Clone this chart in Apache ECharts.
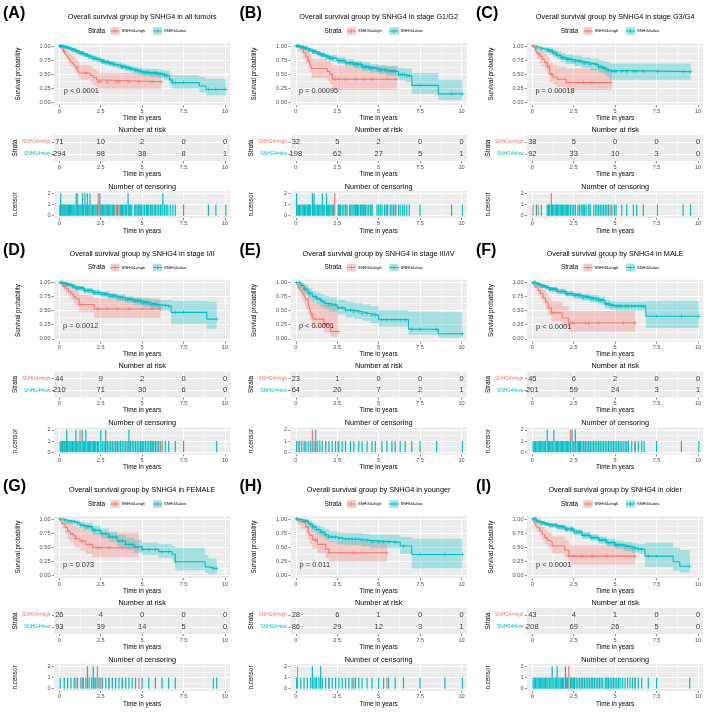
<!DOCTYPE html>
<html><head><meta charset="utf-8">
<script src="https://cdn.jsdelivr.net/npm/echarts@6/dist/echarts.min.js"></script>
<style>html,body{margin:0;padding:0;background:#fff}#c{width:720px;height:720px}</style>
</head><body><div id="c"></div><script>
// ---------------- DATA ----------------
const strataNames = ['SNHG4=high', 'SNHG4=low'];
const timeTicks = [0, 2.5, 5, 7.5, 10];
const panelLetters = ['(A)','(B)','(C)','(D)','(E)','(F)','(G)','(H)','(I)'];
const panelTitles = [
  'Overall survival group by SNHG4 in all tumors',
  'Overall survival group by SNHG4 in stage G1/G2',
  'Overall survival group by SNHG4 in stage G3/G4',
  'Overall survival group by SNHG4 in stage I/II',
  'Overall survival group by SNHG4 in stage III/IV',
  'Overall survival group by SNHG4 in MALE',
  'Overall survival group by SNHG4 in FEMALE',
  'Overall survival group by SNHG4 in younger',
  'Overall survival group by SNHG4 in older'
];
const pValues = ['p < 0.0001','p = 0.00095','p = 0.00018','p = 0.0012','p < 0.0001','p < 0.0001','p = 0.073','p = 0.011','p < 0.0001'];
const pPositions = [[0.24,0.21],[0.16,0.21],[0.16,0.21],[0.2,0.23],[0.16,0.23],[0.2,0.21],[0.2,0.19],[0.2,0.19],[0.2,0.19]];

// number at risk at timeTicks
const riskHigh = [[71,10,2,0,0],[32,5,2,0,0],[38,5,0,0,0],[44,9,2,0,0],[23,1,0,0,0],[45,6,2,0,0],[26,4,0,0,0],[28,6,1,0,0],[43,4,1,0,0]];
const riskLow  = [[294,98,38,8,1],[198,62,27,5,1],[92,33,10,3,0],[210,71,30,6,0],[64,20,7,2,1],[201,59,24,3,1],[93,39,14,5,0],[86,29,12,3,1],[208,69,26,5,0]];

// Kaplan-Meier steps: [time, survival, lower CI, upper CI]
const kmHigh_A = [[0,1,1,1],[0.08,0.97,0.93,1],[0.18,0.94,0.89,0.99],[0.28,0.90,0.84,0.97],[0.38,0.86,0.79,0.94],[0.48,0.82,0.74,0.91],[0.58,0.78,0.69,0.88],[0.68,0.74,0.64,0.85],[0.8,0.70,0.60,0.82],[0.92,0.66,0.55,0.78],[1.02,0.62,0.51,0.75],[1.12,0.57,0.46,0.71],[1.22,0.52,0.40,0.66],[1.85,0.48,0.36,0.63],[2.05,0.44,0.31,0.59],[2.25,0.40,0.27,0.55],[2.35,0.365,0.23,0.52],[6.15,0.365,0.23,0.52]];
const kmLow_A = [[0,1,1,1],[0.25,0.98,0.96,0.99],[0.5,0.96,0.94,0.98],[0.75,0.93,0.90,0.96],[1,0.90,0.87,0.93],[1.25,0.87,0.83,0.91],[1.5,0.84,0.80,0.88],[1.75,0.81,0.77,0.85],[2,0.78,0.74,0.83],[2.25,0.76,0.71,0.81],[2.5,0.73,0.68,0.78],[2.75,0.71,0.66,0.76],[3,0.69,0.64,0.74],[3.25,0.67,0.62,0.73],[3.5,0.65,0.60,0.71],[3.75,0.63,0.58,0.69],[4,0.61,0.55,0.67],[4.25,0.59,0.53,0.65],[4.5,0.57,0.51,0.63],[4.75,0.55,0.49,0.62],[5,0.53,0.47,0.60],[5.5,0.52,0.45,0.59],[6,0.50,0.43,0.58],[6.3,0.47,0.39,0.56],[6.65,0.40,0.31,0.51],[6.8,0.35,0.24,0.48],[8.45,0.29,0.18,0.45],[8.85,0.23,0.12,0.42],[10.05,0.23,0.12,0.42]];
const kmHigh_B = [[0,1,1,1],[0.15,0.97,0.91,1],[0.3,0.94,0.86,1],[0.45,0.88,0.77,0.99],[0.6,0.81,0.68,0.95],[0.75,0.75,0.61,0.91],[0.85,0.69,0.54,0.87],[0.95,0.60,0.43,0.77],[1.9,0.55,0.38,0.74],[2.05,0.50,0.33,0.70],[2.2,0.41,0.22,0.65],[6.1,0.41,0.22,0.65]];
const kmLow_B = [[0,1,1,1],[0.25,0.98,0.96,1],[0.5,0.96,0.93,0.99],[0.75,0.93,0.90,0.96],[1,0.90,0.86,0.94],[1.25,0.87,0.83,0.91],[1.5,0.84,0.79,0.89],[1.75,0.81,0.76,0.86],[2,0.78,0.72,0.84],[2.5,0.74,0.68,0.80],[3,0.70,0.64,0.77],[3.5,0.67,0.60,0.74],[4,0.63,0.56,0.71],[4.5,0.60,0.53,0.68],[5,0.575,0.50,0.66],[5.5,0.55,0.47,0.64],[6.2,0.49,0.39,0.61],[6.6,0.47,0.36,0.60],[7,0.30,0.15,0.52],[8.6,0.15,0.04,0.40],[10.05,0.15,0.04,0.40]];
const kmHigh_C = [[0,1,1,1],[0.1,0.97,0.92,1],[0.2,0.92,0.84,1],[0.3,0.87,0.77,0.98],[0.45,0.82,0.70,0.95],[0.6,0.76,0.63,0.91],[0.75,0.71,0.57,0.87],[0.9,0.63,0.49,0.81],[1.05,0.50,0.36,0.70],[1.25,0.45,0.31,0.66],[1.5,0.41,0.27,0.63],[2.05,0.35,0.22,0.60],[4.8,0.35,0.22,0.60]];
const kmLow_C = [[0,1,1,1],[0.25,0.97,0.94,1],[0.5,0.95,0.91,0.99],[0.75,0.93,0.88,0.98],[1,0.91,0.85,0.97],[1.25,0.87,0.80,0.94],[1.5,0.83,0.76,0.91],[1.75,0.79,0.71,0.88],[2,0.76,0.68,0.85],[2.5,0.73,0.64,0.83],[3,0.70,0.61,0.80],[3.5,0.67,0.57,0.78],[4,0.63,0.53,0.75],[4.3,0.60,0.49,0.73],[4.5,0.57,0.45,0.71],[4.65,0.545,0.40,0.69],[9.55,0.545,0.40,0.69]];
const kmHigh_D = [[0,1,1,1],[0.1,0.97,0.92,1],[0.25,0.93,0.86,1],[0.4,0.89,0.80,0.98],[0.55,0.84,0.74,0.95],[0.7,0.80,0.69,0.92],[0.85,0.75,0.63,0.89],[1,0.71,0.58,0.86],[1.2,0.61,0.47,0.78],[2.1,0.53,0.37,0.72],[6.1,0.53,0.37,0.72]];
const kmLow_D = [[0,1,1,1],[0.25,0.98,0.96,1],[0.5,0.96,0.94,0.98],[0.75,0.93,0.90,0.96],[1,0.90,0.86,0.93],[1.5,0.86,0.82,0.90],[2,0.82,0.78,0.87],[2.5,0.79,0.74,0.84],[3,0.76,0.71,0.81],[3.5,0.73,0.67,0.79],[4,0.70,0.64,0.76],[4.5,0.67,0.60,0.74],[5,0.64,0.57,0.72],[5.5,0.61,0.53,0.70],[6,0.59,0.50,0.69],[6.6,0.58,0.48,0.69],[6.75,0.47,0.26,0.67],[8.9,0.35,0.18,0.66],[9.5,0.35,0.18,0.66]];
const kmHigh_E = [[0,1,1,1],[0.1,0.96,0.88,1],[0.2,0.91,0.80,1],[0.3,0.87,0.74,1],[0.4,0.83,0.68,0.99],[0.5,0.78,0.62,0.96],[0.6,0.70,0.52,0.92],[0.75,0.61,0.43,0.86],[0.85,0.52,0.34,0.79],[0.95,0.43,0.26,0.72],[1.05,0.35,0.19,0.65],[1.7,0.26,0.11,0.60],[2.1,0.13,0.03,0.58],[2.55,0.13,0.03,0.58]];
const kmLow_E = [[0,1,1,1],[0.25,0.95,0.90,1],[0.5,0.88,0.81,0.96],[0.75,0.81,0.72,0.90],[1,0.75,0.65,0.85],[1.25,0.71,0.61,0.82],[1.5,0.67,0.56,0.79],[1.75,0.63,0.52,0.76],[2,0.60,0.48,0.73],[2.5,0.55,0.43,0.69],[3,0.51,0.38,0.66],[3.5,0.48,0.35,0.63],[4,0.45,0.32,0.61],[4.5,0.42,0.28,0.58],[5,0.34,0.22,0.51],[6.8,0.17,0.07,0.48],[8.6,0.09,0.02,0.47],[10.05,0.09,0.02,0.47]];
const kmHigh_F = [[0,1,1,1],[0.1,0.96,0.91,1],[0.2,0.92,0.85,0.99],[0.35,0.86,0.77,0.96],[0.5,0.80,0.69,0.92],[0.65,0.73,0.61,0.87],[0.8,0.65,0.52,0.81],[0.95,0.55,0.42,0.73],[1.15,0.46,0.31,0.66],[1.8,0.37,0.22,0.58],[2.2,0.28,0.13,0.50],[6.2,0.28,0.13,0.50]];
const kmLow_F = [[0,1,1,1],[0.25,0.97,0.95,0.99],[0.5,0.94,0.91,0.97],[0.75,0.91,0.88,0.95],[1,0.88,0.84,0.92],[1.5,0.84,0.79,0.89],[2,0.80,0.75,0.85],[2.5,0.77,0.71,0.82],[3,0.74,0.68,0.80],[3.5,0.71,0.64,0.78],[4,0.68,0.61,0.75],[4.4,0.62,0.54,0.70],[4.7,0.59,0.51,0.67],[5,0.58,0.50,0.66],[6.85,0.40,0.19,0.67],[10.05,0.40,0.19,0.67]];
const kmHigh_G = [[0,1,1,1],[0.1,0.96,0.89,1],[0.2,0.92,0.83,1],[0.35,0.85,0.73,0.98],[0.5,0.78,0.64,0.94],[0.65,0.74,0.59,0.92],[0.85,0.70,0.54,0.89],[1,0.65,0.49,0.86],[1.25,0.61,0.44,0.83],[1.6,0.55,0.38,0.79],[2,0.49,0.32,0.76],[4.8,0.49,0.32,0.76]];
const kmLow_G = [[0,1,1,1],[0.25,0.98,0.95,1],[0.5,0.95,0.91,0.99],[1,0.93,0.88,0.98],[1.25,0.89,0.83,0.95],[1.5,0.86,0.79,0.93],[2,0.80,0.72,0.88],[2.5,0.74,0.66,0.83],[3,0.68,0.59,0.78],[3.5,0.61,0.51,0.72],[4,0.55,0.45,0.67],[4.5,0.51,0.40,0.63],[5,0.46,0.36,0.58],[6,0.42,0.31,0.55],[6.8,0.375,0.26,0.52],[7,0.24,0.09,0.49],[8.8,0.15,0.04,0.36],[9,0.12,0.02,0.30],[9.5,0.12,0.02,0.30]];
const kmHigh_H = [[0,1,1,1],[0.15,0.96,0.89,1],[0.3,0.93,0.83,1],[0.6,0.86,0.73,0.99],[0.75,0.78,0.63,0.94],[0.85,0.71,0.55,0.89],[1,0.63,0.47,0.83],[1.3,0.55,0.39,0.76],[1.8,0.47,0.31,0.70],[2,0.40,0.24,0.61],[5.5,0.40,0.24,0.61]];
const kmLow_H = [[0,1,1,1],[0.25,0.98,0.95,1],[0.5,0.96,0.92,1],[0.75,0.91,0.85,0.97],[1,0.86,0.79,0.93],[1.25,0.81,0.73,0.89],[1.5,0.77,0.69,0.86],[1.75,0.72,0.63,0.82],[2,0.68,0.59,0.78],[2.5,0.65,0.55,0.76],[3,0.64,0.54,0.75],[4,0.62,0.51,0.74],[4.5,0.59,0.48,0.72],[6.3,0.52,0.38,0.68],[7,0.37,0.12,0.65],[10.05,0.37,0.12,0.65]];
const kmHigh_I = [[0,1,1,1],[0.08,0.96,0.91,1],[0.18,0.90,0.82,0.98],[0.3,0.85,0.76,0.95],[0.45,0.79,0.69,0.91],[0.6,0.73,0.62,0.86],[0.75,0.67,0.55,0.81],[0.9,0.62,0.50,0.77],[1.05,0.595,0.47,0.75],[1.2,0.52,0.39,0.69],[1.95,0.45,0.32,0.63],[2.2,0.34,0.19,0.53],[6.2,0.34,0.19,0.53]];
const kmLow_I = [[0,1,1,1],[0.25,0.96,0.94,0.99],[0.5,0.93,0.90,0.96],[0.75,0.91,0.88,0.94],[1,0.89,0.85,0.93],[1.5,0.86,0.81,0.90],[2,0.82,0.77,0.87],[2.5,0.77,0.71,0.82],[3,0.71,0.65,0.77],[3.5,0.67,0.61,0.73],[4,0.625,0.56,0.69],[4.5,0.58,0.51,0.65],[5,0.54,0.47,0.62],[5.5,0.51,0.43,0.59],[6,0.48,0.40,0.57],[6.4,0.46,0.38,0.55],[6.8,0.34,0.15,0.58],[8.5,0.24,0.08,0.50],[8.9,0.16,0.05,0.45],[9.5,0.16,0.05,0.45]];

// censoring times (years); "1" = one patient censored, "2" = two patients censored
const cens1High_A = [0.3,1.6,2.5,2.9,3.45,3.6,4.2,4.8,5.6,6.15];
const cens2High_A = [1.1,2.35];
const cens1Low_A = [0.03,0.1,0.16,0.22,0.28,0.35,0.42,0.48,0.55,0.62,0.68,0.75,0.82,0.88,0.95,1.12,1.18,1.25,1.32,1.45,1.62,1.78,1.92,2.0,2.08,2.15,2.22,2.3,2.52,2.6,2.68,2.75,2.82,2.9,2.98,3.05,3.12,3.2,3.28,3.35,3.52,3.68,3.75,3.82,3.9,3.98,4.05,4.22,4.3,4.38,4.55,4.62,4.7,4.8,4.88,4.95,5.05,5.15,5.25,5.32,5.4,5.5,5.6,5.72,5.8,5.9,6.0,6.1,6.35,6.45,6.55,6.7,6.85,7.0,7.5,9.0,9.45,10.05];
const cens2Low_A = [0.08,1.02,1.4,1.55,1.7,1.85,2.45,4.15,6.25];
const cens1High_B = [0.75,2.6,3.0,3.6,4.1,4.6,5.5,6.05];
const cens2High_B = [2.35];
const cens1Low_B = [0.08,0.15,0.22,0.3,0.38,0.45,0.52,0.6,0.68,0.75,0.82,0.9,1.05,1.15,1.22,1.3,1.38,1.45,1.52,1.65,1.72,1.9,1.98,2.05,2.12,2.2,2.28,2.55,2.62,2.7,2.8,2.9,3.0,3.1,3.25,3.32,3.4,3.5,3.58,3.65,3.72,3.8,3.9,3.98,4.05,4.12,4.2,4.3,4.4,4.5,4.6,4.9,5.0,5.1,5.2,5.35,5.45,5.55,5.7,5.8,5.9,6.0,6.2,6.3,6.45,6.55,6.7,6.85,7.5,9.4,10.05];
const cens2Low_B = [0.05,1.0,1.1,1.6,1.85];
const cens1High_C = [0.05,0.35,1.0,3.1,3.5,3.7,4.7];
const cens2High_C = [1.15];
const cens1Low_C = [0.25,0.55,0.9,0.98,1.05,1.15,1.22,1.3,1.38,1.45,1.52,1.6,1.68,1.75,1.82,1.9,1.98,2.05,2.12,2.2,2.3,2.4,2.5,2.6,2.75,2.85,2.95,3.05,3.15,3.25,3.4,3.5,3.8,3.9,4.0,4.1,4.2,4.3,4.4,4.5,4.6,4.8,4.95,5.05,5.4,5.7,6.1,6.3,6.7,7.55,9.1,9.55];
const cens2Low_C = [];
const cens1High_D = [0.3,2.3,2.9,3.5,4.2,5.0,5.6,6.1];
const cens2High_D = [1.25];
const cens1Low_D = [0.05,0.12,0.2,0.28,0.35,0.42,0.5,0.58,0.65,0.72,0.8,0.88,0.95,1.05,1.12,1.2,1.3,1.45,1.52,1.68,1.75,1.82,1.9,1.98,2.05,2.12,2.2,2.3,2.38,2.6,2.7,2.78,2.9,3.0,3.1,3.2,3.3,3.4,3.5,3.6,3.7,3.8,3.9,4.0,4.1,4.3,4.4,4.5,4.6,4.7,4.8,4.9,5.0,5.1,5.2,5.3,5.4,5.5,5.6,5.7,5.8,5.9,6.0,6.2,6.4,6.6,7.0,7.5,9.5];
const cens2Low_D = [0.45,1.0,1.38,1.6,2.5,2.8,4.2];
const cens1High_E = [0.2,1.8,2.55];
const cens2High_E = [1.0];
const cens1Low_E = [0.05,0.2,0.35,0.5,0.6,0.75,0.9,1.1,1.3,1.45,1.6,1.8,2.0,2.2,2.4,2.6,2.8,3.0,3.3,3.5,3.8,4.0,4.3,4.6,4.8,5.2,5.5,5.8,6.0,6.3,6.6,7.0,7.5,8.5,10.05];
const cens2Low_E = [1.2];
const cens1High_F = [1.2,2.5,3.2,3.4,4.0,5.5,6.2];
const cens2High_F = [2.3];
const cens1Low_F = [0.05,0.12,0.2,0.28,0.35,0.42,0.5,0.58,0.65,0.72,0.8,0.98,1.05,1.12,1.2,1.38,1.45,1.52,1.6,1.68,1.75,1.82,1.9,1.98,2.05,2.12,2.2,2.3,2.5,2.7,2.78,2.85,2.92,3.0,3.1,3.2,3.3,3.4,3.5,3.6,3.7,3.8,3.9,4.0,4.1,4.2,4.3,4.4,4.5,4.6,4.7,4.8,4.9,5.0,5.1,5.2,5.3,5.4,5.6,5.7,5.8,6.0,6.2,6.4,6.6,6.75,7.5,9.0,10.05];
const cens2Low_F = [0.9,1.3,2.4,2.6];
const cens1High_G = [1.0,1.4,2.5,3.0,3.8,4.8];
const cens2High_G = [2.3];
const cens1Low_G = [0.05,0.3,0.5,0.7,0.9,1.1,1.3,1.45,1.6,1.8,1.95,2.1,2.2,2.4,2.6,2.8,3.0,3.2,3.4,3.6,3.8,4.0,4.2,4.4,4.6,5.0,5.4,5.8,6.2,6.6,7.0,9.3,9.5];
const cens2Low_G = [1.7,2.05];
const cens1High_H = [1.2,2.0,3.5,5.5];
const cens2High_H = [0.1];
const cens1Low_H = [0.05,0.3,0.5,0.7,0.9,1.1,1.25,1.4,1.6,1.8,2.0,2.2,2.4,2.6,2.8,3.0,3.2,3.4,3.6,3.8,4.0,4.3,4.6,5.0,5.3,5.6,6.0,6.5,7.5,9.0,10.05];
const cens2Low_H = [1.0,1.5];
const cens1High_I = [2.5,3.0,3.6,4.5,6.2];
const cens2High_I = [2.2];
const cens1Low_I = [0.05,0.12,0.2,0.28,0.35,0.42,0.5,0.58,0.65,0.72,0.8,0.88,0.95,1.05,1.12,1.3,1.38,1.45,1.6,1.68,1.75,1.82,1.9,2.05,2.12,2.3,2.38,2.45,2.55,2.65,2.75,2.85,2.95,3.05,3.15,3.25,3.35,3.45,3.55,3.65,3.75,3.85,3.95,4.05,4.15,4.25,4.4,4.5,4.6,4.7,4.8,4.9,5.0,5.1,5.2,5.3,5.45,5.6,5.75,5.9,6.05,6.2,6.4,6.6,7.0,7.5,9.5];
const cens2Low_I = [1.2,1.5,2.0];

// ---------------- BUILD ----------------
const FONT = '"Liberation Sans", Arial, sans-serif';
const COL = ['#F8766D', '#00BFC4'];
const FILL = ['rgba(248,118,109,0.3)', 'rgba(0,191,196,0.3)'];
const PLUS = 'path://M4,0H6V4H10V6H6V10H4V6H0V4H4Z';

const panels = [
  [kmHigh_A, kmLow_A, cens1High_A, cens2High_A, cens1Low_A, cens2Low_A],
  [kmHigh_B, kmLow_B, cens1High_B, cens2High_B, cens1Low_B, cens2Low_B],
  [kmHigh_C, kmLow_C, cens1High_C, cens2High_C, cens1Low_C, cens2Low_C],
  [kmHigh_D, kmLow_D, cens1High_D, cens2High_D, cens1Low_D, cens2Low_D],
  [kmHigh_E, kmLow_E, cens1High_E, cens2High_E, cens1Low_E, cens2Low_E],
  [kmHigh_F, kmLow_F, cens1High_F, cens2High_F, cens1Low_F, cens2Low_F],
  [kmHigh_G, kmLow_G, cens1High_G, cens2High_G, cens1Low_G, cens2Low_G],
  [kmHigh_H, kmLow_H, cens1High_H, cens2High_H, cens1Low_H, cens2Low_H],
  [kmHigh_I, kmLow_I, cens1High_I, cens2High_I, cens1Low_I, cens2Low_I]
];

const grids = [], xAxes = [], yAxes = [], series = [], gfx = [];
function addGrid(l, t, w, h, bg) {
  grids.push({left: l, top: t, width: w, height: h, show: !!bg, backgroundColor: bg || 'transparent', borderWidth: 0, z: 0, containLabel: false});
  return grids.length - 1;
}
function hidden(gi, min, max) { return {type: 'value', gridIndex: gi, min: min, max: max, show: false}; }
const tickStyle = {show: true, length: 2, lineStyle: {color: '#333', width: 0.6}};
const labStyle = {fontSize: 5.6, color: '#4D4D4D', fontFamily: FONT};
function stepAt(km, t) { let v = km[0][1]; for (const r of km) { if (r[0] <= t) v = r[1]; } return v; }

function xLinesAxis(gi, withMinor) {
  return {type: 'value', gridIndex: gi, min: 0, max: 10, interval: 2.5, z: 1,
    axisLine: {show: false}, axisTick: tickStyle,
    axisLabel: Object.assign({margin: 3}, labStyle),
    splitLine: {show: true, lineStyle: {color: '#fff', width: 1}},
    minorTick: {show: false, splitNumber: 2},
    minorSplitLine: {show: withMinor, lineStyle: {color: '#fff', width: 0.5}},
    name: 'Time in years', nameLocation: 'middle', nameGap: 9,
    nameTextStyle: {fontSize: 6.4, color: '#000', fontFamily: FONT}};
}

// confidence band drawn as one stepped polygon through the axis scales
function bandSeries(km, s, xi, yi) {
  return {type: 'custom', xAxisIndex: xi, yAxisIndex: yi, z: 2, silent: true, animation: false,
    data: km.map(r => [r[0], r[2], r[3]]),
    encode: {x: 0, y: [1, 2]},
    renderItem: (params, api) => {
      if (params.dataIndex !== 0) return null;
      const pts = [];
      for (let j = 0; j < km.length; j++) {
        pts.push(api.coord([km[j][0], km[j][3]]));
        if (j < km.length - 1) pts.push(api.coord([km[j + 1][0], km[j][3]]));
      }
      for (let j = km.length - 1; j >= 0; j--) {
        if (j < km.length - 1) pts.push(api.coord([km[j + 1][0], km[j][2]]));
        pts.push(api.coord([km[j][0], km[j][2]]));
      }
      return {type: 'polygon', shape: {points: pts}, style: {fill: FILL[s]}};
    }};
}

panels.forEach((P, i) => {
  const [kmH, kmL, c1H, c2H, c1L, c2L] = P;
  const col = i % 3, row = Math.floor(i / 3);
  const ox = col * 236.5, oy = row * 236.5;
  const x0 = ox + 59.3, x10 = ox + 225, k = (x10 - x0) / 10;
  const bgL = x0 - 0.32 * k, bgW = (x10 - x0) + 0.64 * k;
  const cx = bgL + bgW / 2;

  // ---- survival plot ----
  const sy1 = oy + 46, sy0 = oy + 102.3, su = sy0 - sy1;
  const sT = sy1 - 0.05 * su, sH = su * 1.1;
  const gS = addGrid(bgL, sT, bgW, sH, '#EBEBEB');
  xAxes.push(hidden(gS, -0.32, 10.32)); const sx = xAxes.length - 1;
  yAxes.push(hidden(gS, -0.05, 1.05)); const sy = yAxes.length - 1;
  const gSv = addGrid(x0, sT, x10 - x0, sH);
  xAxes.push(xLinesAxis(gSv, true)); yAxes.push(hidden(gSv, 0, 1));
  const gSh = addGrid(bgL, sy1, bgW, su);
  xAxes.push(hidden(gSh, 0, 1));
  yAxes.push({type: 'value', gridIndex: gSh, min: 0, max: 1, interval: 0.25, z: 1,
    axisLine: {show: false}, axisTick: tickStyle,
    axisLabel: Object.assign({margin: 3.5, formatter: v => v.toFixed(2)}, labStyle),
    splitLine: {show: true, lineStyle: {color: '#fff', width: 1}},
    minorTick: {show: false, splitNumber: 2},
    minorSplitLine: {show: true, lineStyle: {color: '#fff', width: 0.5}},
    name: 'Survival probability', nameLocation: 'middle', nameRotate: 90, nameGap: 33,
    nameTextStyle: {fontSize: 6.3, color: '#000', fontFamily: FONT}});

  [kmH, kmL].forEach((km, s) => series.push(bandSeries(km, s, sx, sy)));
  [kmH, kmL].forEach((km, s) => {
    series.push({type: 'line', name: strataNames[s], xAxisIndex: sx, yAxisIndex: sy, step: 'end', symbol: 'none', z: 3,
      lineStyle: {color: COL[s], width: 1.1}, data: km.map(r => [r[0], r[1]]), animation: false});
  });
  [[kmH, c1H.concat(c2H)], [kmL, c1L.concat(c2L)]].forEach(([km, ts], s) => {
    series.push({type: 'scatter', xAxisIndex: sx, yAxisIndex: sy, symbol: PLUS, symbolSize: 4, z: 4, silent: true,
      itemStyle: {color: COL[s]}, data: ts.map(t => [t, stepAt(km, t)]), animation: false});
  });
  series.push({type: 'scatter', xAxisIndex: sx, yAxisIndex: sy, symbolSize: 1, z: 5, silent: true,
    itemStyle: {color: 'rgba(0,0,0,0)'}, data: [pPositions[i]],
    label: {show: true, position: 'right', distance: 0, formatter: pValues[i], fontSize: 7.4, color: '#000', fontFamily: FONT}, animation: false});

  // ---- risk table ----
  const rT = oy + 135, rB = oy + 161, ru = (rB - rT) / 2.2;
  const gR = addGrid(bgL, rT, bgW, rB - rT, '#EBEBEB');
  xAxes.push(hidden(gR, -0.32, 10.32)); const rx = xAxes.length - 1;
  yAxes.push(hidden(gR, 0.4, 2.6)); const ry = yAxes.length - 1;
  const gRv = addGrid(x0, rT, x10 - x0, rB - rT);
  xAxes.push(xLinesAxis(gRv, true)); yAxes.push(hidden(gRv, 0, 1));
  const gRh = addGrid(bgL, rB - 1.6 * ru, bgW, ru);
  xAxes.push(hidden(gRh, 0, 1));
  yAxes.push({type: 'value', gridIndex: gRh, min: 1, max: 2, interval: 1, z: 1,
    axisLine: {show: false}, axisTick: tickStyle,
    axisLabel: {margin: 3.5, formatter: v => v === 2 ? '{h|' + strataNames[0] + '}' : '{l|' + strataNames[1] + '}',
      rich: {h: {color: COL[0], fontSize: 4.8, fontFamily: FONT}, l: {color: COL[1], fontSize: 4.8, fontFamily: FONT}}},
    splitLine: {show: true, lineStyle: {color: '#fff', width: 1}},
    name: 'Strata', nameLocation: 'middle', nameRotate: 90, nameGap: 36,
    nameTextStyle: {fontSize: 6.3, color: '#000', fontFamily: FONT}});
  const riskData = [];
  timeTicks.forEach((t, j) => { riskData.push([t, 2, riskHigh[i][j]]); riskData.push([t, 1, riskLow[i][j]]); });
  series.push({type: 'scatter', xAxisIndex: rx, yAxisIndex: ry, symbolSize: 1, z: 5, silent: true,
    itemStyle: {color: 'rgba(0,0,0,0)'}, data: riskData,
    label: {show: true, position: 'inside', formatter: p => String(p.value[2]), fontSize: 7.5, color: '#000', fontFamily: FONT}, animation: false});

  // ---- censoring plot ----
  const cy2 = oy + 193.3, cy0 = oy + 215.7, cu = (cy0 - cy2) / 2;
  const cT = cy2 - 0.2 * cu, cH = cu * 2.4;
  const gC = addGrid(bgL, cT, bgW, cH, '#EBEBEB');
  xAxes.push(hidden(gC, -0.32, 10.32)); const ccx = xAxes.length - 1;
  yAxes.push(hidden(gC, -0.2, 2.2)); const ccy = yAxes.length - 1;
  const gCv = addGrid(x0, cT, x10 - x0, cH);
  xAxes.push(xLinesAxis(gCv, true)); yAxes.push(hidden(gCv, 0, 1));
  const gCh = addGrid(bgL, cy2, bgW, cy0 - cy2);
  xAxes.push(hidden(gCh, 0, 1));
  yAxes.push({type: 'value', gridIndex: gCh, min: 0, max: 2, interval: 1, z: 1,
    axisLine: {show: false}, axisTick: tickStyle,
    axisLabel: Object.assign({margin: 3.5}, labStyle),
    splitLine: {show: true, lineStyle: {color: '#fff', width: 1}},
    minorTick: {show: false, splitNumber: 2},
    minorSplitLine: {show: true, lineStyle: {color: '#fff', width: 0.5}},
    name: 'n.censor', nameLocation: 'middle', nameRotate: 90, nameGap: 36,
    nameTextStyle: {fontSize: 6.3, color: '#000', fontFamily: FONT}});
  [[c1H, c2H], [c1L, c2L]].forEach(([a1, a2], s) => {
    series.push({type: 'bar', xAxisIndex: ccx, yAxisIndex: ccy, barWidth: 1.2, barGap: '-100%', z: 3 + s, silent: true,
      itemStyle: {color: COL[s]}, data: a1.map(t => [t, 1]).concat(a2.map(t => [t, 2])), animation: false});
  });

  // ---- texts ----
  gfx.push({type: 'text', x: ox + 3, y: oy + 14, style: {text: panelLetters[i], fontSize: 16, fontWeight: 'bold', fontFamily: FONT, fill: '#000', align: 'left', verticalAlign: 'middle'}});
  gfx.push({type: 'text', x: cx, y: oy + 17, style: {text: panelTitles[i], fontSize: 7.3, fontFamily: FONT, fill: '#000', align: 'center', verticalAlign: 'middle'}});
  gfx.push({type: 'text', x: cx, y: oy + 129.7, style: {text: 'Number at risk', fontSize: 7.3, fontFamily: FONT, fill: '#000', align: 'center', verticalAlign: 'middle'}});
  gfx.push({type: 'text', x: cx, y: oy + 186.7, style: {text: 'Number of censoring', fontSize: 7.3, fontFamily: FONT, fill: '#000', align: 'center', verticalAlign: 'middle'}});
  // legend
  const ly = oy + 31;
  gfx.push({type: 'text', x: ox + 88, y: ly, style: {text: 'Strata', fontSize: 6.4, fontFamily: FONT, fill: '#000', align: 'left', verticalAlign: 'middle'}});
  [[ox + 110.5, ox + 121.5], [ox + 153, ox + 164]].forEach(([kx, tx], s) => {
    gfx.push({type: 'rect', shape: {x: kx, y: ly - 3.8, width: 9, height: 7.6}, style: {fill: '#F2F2F2'}});
    gfx.push({type: 'rect', shape: {x: kx, y: ly - 3.8, width: 9, height: 7.6}, style: {fill: FILL[s]}});
    gfx.push({type: 'line', shape: {x1: kx, y1: ly, x2: kx + 9, y2: ly}, style: {stroke: COL[s], lineWidth: 1}});
    gfx.push({type: 'line', shape: {x1: kx + 4.5, y1: ly - 2, x2: kx + 4.5, y2: ly + 2}, style: {stroke: COL[s], lineWidth: 0.8}});
    gfx.push({type: 'text', x: tx, y: ly, style: {text: strataNames[s], fontSize: 4, fontFamily: FONT, fill: '#000', align: 'left', verticalAlign: 'middle'}});
  });
});

const chart = echarts.init(document.getElementById('c'), null, {renderer: 'canvas'});
chart.setOption({
  animation: false,
  backgroundColor: '#fff',
  grid: grids, xAxis: xAxes, yAxis: yAxes, series: series,
  graphic: {elements: gfx}
});
</script></body></html>
